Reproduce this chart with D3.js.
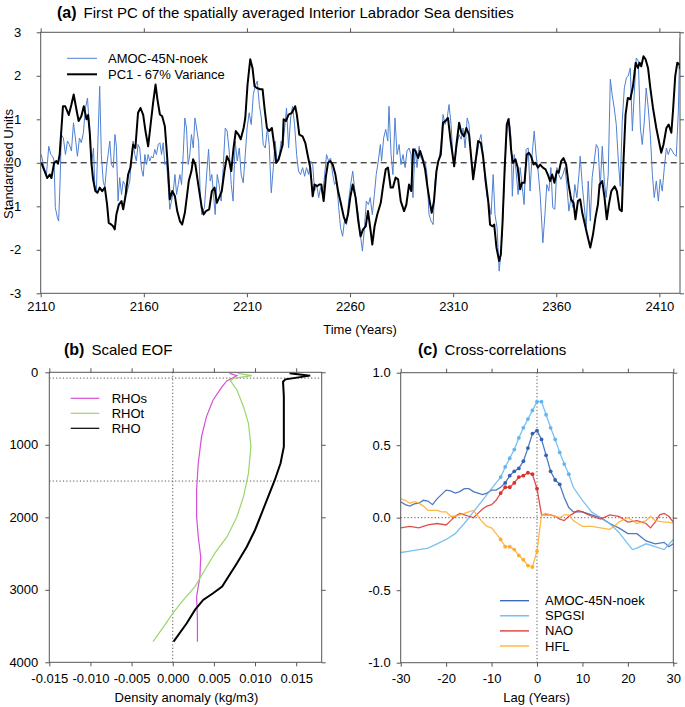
<!DOCTYPE html>
<html><head><meta charset="utf-8">
<script src="https://cdn.jsdelivr.net/npm/d3@7"></script>
<style>
body{margin:0;background:#fff;}
svg{display:block;font-family:"Liberation Sans",Arial,Helvetica,sans-serif;}
</style></head>
<body>
<svg id="chart" width="685" height="707"></svg>
<script>
// ---------- Panel (a) data: [year, standardised value] ----------
const amoc = [[2110.3,0.19],[2111.6,-0.11],[2112.8,-0.27],[2113.9,0.38],[2114.9,0.19],[2115.8,0.15],[2116.5,0.04],[2117.1,-1.03],[2118.1,-1.26],[2118.7,-1.34],[2119.4,-0.42],[2120,0.65],[2121,0.57],[2122,0.19],[2123,0.5],[2123.9,0.42],[2124.9,0.27],[2125.9,0.92],[2126.8,0.57],[2127.8,0.15],[2128.8,0.57],[2129.7,0.46],[2130.7,0.69],[2131.7,1.26],[2132.7,1.49],[2133.6,0.8],[2134.6,-0.04],[2135.6,0.34],[2136.2,-0.5],[2137,-0.65],[2137.8,0.57],[2138.6,1.76],[2139.4,0.19],[2140.3,-0.42],[2141.1,-0.57],[2141.9,-0.11],[2142.7,0.19],[2143.5,0.5],[2144.3,-0.04],[2145.2,-0.11],[2146,0.65],[2146.7,0.38],[2147.5,-0.88],[2148.3,-0.34],[2149.2,-0.73],[2150,-0.42],[2150.8,-0.5],[2151.6,-0.73],[2152.4,-0.57],[2153.2,-0.42],[2154,0.11],[2154.8,0.5],[2155.6,0.19],[2156.4,0.04],[2157.2,0.42],[2158,0.34],[2158.9,-0.15],[2159.7,-0.31],[2160.5,0.19],[2161.3,-0.04],[2162.1,0.19],[2162.9,0.04],[2163.7,0.15],[2164.5,0.11],[2165.3,0.31],[2166.1,0.19],[2167,0.42],[2167.8,0.46],[2168.6,0.19],[2169.4,0.46],[2170.2,-0.04],[2171,0.04],[2171.8,-0.5],[2172.6,-1.07],[2173.4,-0.88],[2174.2,-0.69],[2175.1,-0.27],[2175.9,-0.73],[2176.7,-0.5],[2177.5,-0.27],[2178.3,-0.5],[2179.1,0.19],[2179.9,1.03],[2180.7,0.8],[2181.5,-0.04],[2182.3,0.19],[2183.1,0.65],[2184,0.34],[2184.8,1.03],[2185.6,0.8],[2186.6,0.46],[2187.3,-0.65],[2188.1,-1.19],[2189.4,-1.03],[2190.6,-0.19],[2191.4,0.31],[2192.2,-0.42],[2193,-0.27],[2193.8,-0.73],[2194.6,-1.19],[2195.6,-0.27],[2196.5,-0.5],[2197.5,-0.88],[2198.5,-0.11],[2199.5,0.8],[2200.4,0.73],[2201.4,0.27],[2202.4,-0.5],[2203.3,-0.88],[2204.3,0.5],[2205.3,0.04],[2206.3,0.34],[2207.2,-0.27],[2208.2,-0.46],[2209.2,0.19],[2210.1,0.8],[2211.1,1.15],[2212.1,0.88],[2213.1,1.57],[2214,1.76],[2215,1.88],[2216,1.34],[2217,1.03],[2217.9,0.42],[2218.9,0.34],[2219.9,0.8],[2220.8,0.42],[2221.8,-0.69],[2222.8,-0.11],[2223.7,0.5],[2224.7,0],[2225.7,0.19],[2226.6,0.5],[2227.3,0.34],[2228.3,0.8],[2229.2,1.26],[2230.2,0.34],[2231.2,1.03],[2232.1,1.3],[2233.1,0.88],[2234.1,0.19],[2235,-0.19],[2236,-0.27],[2237,-0.11],[2238,-0.31],[2238.9,-0.11],[2239.9,-0.27],[2240.9,0.04],[2241.9,-0.04],[2242.8,-0.65],[2243.8,-0.5],[2244.8,-0.8],[2245.7,-0.57],[2246.7,-0.73],[2247.7,-0.27],[2248.6,0.19],[2249.6,0.04],[2250.6,0.11],[2251.6,-0.27],[2252.5,-0.5],[2253.5,-0.42],[2254.5,-1.03],[2255.4,-1.49],[2256.4,-1.69],[2257.4,-1.3],[2258.3,-1.42],[2259.3,-0.88],[2260.3,-0.5],[2261.3,-0.19],[2262,-0.5],[2263,-0.88],[2264,-1.19],[2265,-1.65],[2266,-2.03],[2267,-1.49],[2267.9,-0.88],[2268.9,-0.96],[2269.8,-0.8],[2270.8,-1.19],[2271.8,-0.73],[2272.7,-0.27],[2273.7,0.04],[2274.7,0.42],[2275.3,0.04],[2276.3,0.57],[2277.3,0.77],[2278.3,0.5],[2278.9,1.3],[2279.9,0.19],[2280.8,-0.27],[2281.8,1.03],[2282.8,0.19],[2283.8,0.42],[2284.7,-0.04],[2285.7,0.19],[2286.7,-0.11],[2287.6,0.27],[2288.6,0.34],[2289.6,0.19],[2290.5,-0.8],[2291.5,0.34],[2292.5,-0.11],[2293.5,0.38],[2294.4,0.11],[2295.4,0.04],[2296.4,0.04],[2297.3,-0.27],[2298.3,-1.19],[2299.3,-1.34],[2300.3,-1.42],[2301.2,-0.42],[2302.2,-0.11],[2303.2,0.11],[2304.1,0.42],[2305.1,1.11],[2306.1,0.88],[2307.1,1.03],[2308,1.34],[2309,0.88],[2310,0.04],[2310.9,0.08],[2311.9,0.42],[2312.9,0.65],[2313.9,0.54],[2314.8,0.8],[2315.8,0.34],[2316.8,1.03],[2317.7,0.88],[2318.7,0.11],[2319.7,-0.34],[2320.6,0.04],[2321.6,0.19],[2322.6,0.5],[2323.5,0.65],[2324.5,0.19],[2325.5,-0.42],[2326.5,-0.8],[2327.4,-0.96],[2328.4,-1.19],[2329.4,-0.27],[2330.3,-1.19],[2331.3,-1.49],[2332.3,-2.49],[2333.3,-2.03],[2334.2,-1.19],[2335.2,0.04],[2336.2,0.8],[2337.1,1.03],[2338.1,0.57],[2338.7,-0.77],[2339.6,0.19],[2340.5,-0.19],[2341.5,-0.73],[2342.5,-0.11],[2343.4,-0.5],[2344.4,-0.96],[2345.4,0.31],[2346.4,0.34],[2347.3,-0.65],[2348.3,0.19],[2349.3,0.73],[2350.2,0.19],[2351.2,-0.19],[2352.2,-0.73],[2353.5,-1.84],[2354.5,-1.19],[2355.4,-0.5],[2356.4,-0.65],[2357.4,-0.11],[2358.3,-1.03],[2359.3,-1.07],[2360.3,-0.11],[2361.2,-0.27],[2362.2,-0.38],[2363.2,-0.27],[2364.2,-0.11],[2365.1,-0.5],[2366.1,-1.11],[2367.1,-0.8],[2368.1,-1.03],[2369,-0.5],[2370,-0.8],[2371,-0.27],[2371.6,0.15],[2372.6,-0.5],[2373.5,-0.96],[2374.5,-1.49],[2375.5,-0.42],[2376.5,-1.34],[2377.4,-0.34],[2378.4,0.04],[2379.4,0.42],[2380.3,0.34],[2381.3,-0.57],[2382.3,0.38],[2383.3,-0.42],[2384.2,-0.8],[2385.2,-0.27],[2386.2,1.92],[2387.1,1.57],[2388.1,1.26],[2389.1,0.88],[2390.1,0.04],[2391,-0.54],[2392,0.96],[2393,1.72],[2394,1.95],[2394.9,2.0],[2395.9,2.18],[2396.9,0.73],[2397.8,1.57],[2398.8,2.41],[2399.8,2.34],[2400.8,0.8],[2401.7,0.42],[2402.7,0.96],[2403.6,1.72],[2404.6,1.26],[2405.6,0.65],[2406.6,-0.27],[2407.5,-0.8],[2408.5,-0.42],[2409.5,-0.88],[2410.4,-0.38],[2411.4,-0.65],[2412.4,-0.11],[2413.4,0.34],[2414.3,0.19],[2415.3,0.34],[2416.3,0.27],[2417.2,0.19],[2418.2,0.15],[2419.2,1.19],[2419.8,2.49],[2420,2.87]];

const pc1 = [[2110.3,0],[2111.9,-0.19],[2113.2,-0.35],[2114.4,-0.27],[2115.2,-0.35],[2116.5,0],[2117.6,0.04],[2118.4,-0.02],[2119.2,0.19],[2120.8,1.3],[2121.9,1.3],[2123.6,1.1],[2124.9,1.34],[2126,1.57],[2127.3,1.23],[2128.4,0.96],[2129.7,1.07],[2130.9,1.3],[2132.2,1.0],[2133,1.1],[2133.8,0.69],[2134.6,0],[2135.4,-0.38],[2136.5,-0.65],[2137.5,-0.69],[2138.6,-0.57],[2139.8,-0.65],[2141.1,-0.57],[2142.2,-0.96],[2143,-1.38],[2144.3,-1.42],[2145.1,-1.46],[2145.9,-1.53],[2146.7,-1.19],[2147.9,-0.96],[2149.2,-0.88],[2150,-1.07],[2151.1,-0.77],[2152.4,-0.27],[2153.5,-0.11],[2154.8,0.42],[2155.9,0.34],[2157.2,1.15],[2158.4,1.26],[2159.7,1.1],[2160.8,0.73],[2162.1,0.38],[2163.2,0.84],[2164.5,1.38],[2165.7,1.8],[2166.6,1.46],[2167.8,1.11],[2168.9,1.07],[2170.2,0.84],[2171,0.34],[2171.8,-0.19],[2172.6,-0.84],[2173.8,-0.65],[2175.1,-0.77],[2176.2,-1.11],[2177.5,-1.34],[2178.6,-1.42],[2179.9,-1.15],[2181,-0.73],[2181.8,-0.42],[2183.1,-0.19],[2183.9,0.08],[2185,-0.04],[2186.4,-0.5],[2188.1,-1.03],[2189,-1.19],[2190.1,-1.11],[2191.7,-1.07],[2193,-0.65],[2194.3,-0.57],[2195.4,-0.92],[2196.5,-0.8],[2197.8,-0.65],[2199.1,-0.19],[2200.3,0.15],[2201.4,0.04],[2202.4,-0.19],[2203.5,0.34],[2204.6,0.73],[2205.9,0.65],[2207,0.54],[2208.4,0.8],[2209.2,1.03],[2210.3,1.8],[2211.6,2.38],[2212.7,2.18],[2213.7,1.76],[2214.8,1.72],[2216.5,1.69],[2217.6,1.69],[2218.6,1.23],[2219.7,0.8],[2220.8,0.73],[2222.1,0.8],[2223.2,0.42],[2224.2,0],[2225.4,0.08],[2226.5,0.27],[2227.3,0.42],[2227.8,1.0],[2228.9,0.96],[2230.2,1.11],[2231.8,1.15],[2233.4,1.3],[2234.2,1.11],[2235.4,0.65],[2237,0.61],[2238.3,0.46],[2239.4,0.19],[2240.7,-0.11],[2241.9,-0.77],[2242.8,-0.5],[2244,-0.54],[2245.1,-0.5],[2246.1,-0.5],[2247.2,-0.88],[2248.3,-0.31],[2249.3,0],[2250.4,0.04],[2251.6,-0.04],[2252.9,-0.27],[2254.2,-0.65],[2255.3,-0.88],[2256.9,-1.23],[2258,-1.38],[2259,-1.19],[2260.1,-0.8],[2261.3,-0.5],[2262.7,-0.8],[2264,-1.34],[2265.1,-1.69],[2266.3,-1.53],[2267.6,-1.46],[2268.7,-1.11],[2270,-1.57],[2270.8,-1.88],[2271.9,-1.46],[2273.2,-1.19],[2274.9,-0.92],[2276,-0.54],[2277.3,-0.15],[2278.4,-0.11],[2279.7,-0.57],[2280.8,-0.57],[2282.1,-0.34],[2283.3,-0.38],[2284.6,-0.88],[2286.2,-1.11],[2287.3,-0.96],[2288.6,-0.5],[2289.7,-0.65],[2290.6,0.31],[2291.8,0.27],[2293,0.11],[2294,0.27],[2295.1,0.11],[2296.4,-0.15],[2297.5,-0.54],[2298.6,-0.88],[2299.6,-1.15],[2300.7,-0.88],[2301.9,-0.19],[2302.8,0.04],[2304,0.19],[2305.1,0.92],[2306.4,0.97],[2307.5,1.03],[2308.8,0.5],[2310.5,-0.08],[2311.6,0.42],[2312.9,0.92],[2314,0.69],[2315.3,0.61],[2316.4,0.8],[2317.7,0.65],[2319,0],[2319.7,-0.38],[2321,0.08],[2322.1,0.5],[2323.4,0.46],[2324.5,0.15],[2325.8,-0.42],[2327,-0.88],[2327.9,-1.42],[2329.1,-1.46],[2329.9,-1.42],[2331,-1.95],[2332.3,-2.26],[2333.1,-2.11],[2333.9,-1.42],[2335,-0.11],[2336,0.88],[2336.8,1.0],[2337.3,0.8],[2338.1,0.3],[2338.9,0],[2340.2,0.08],[2341.3,-0.11],[2342.5,-0.61],[2343.4,-0.46],[2344.6,-0.46],[2345.7,0.19],[2346.7,0.23],[2347.8,0.15],[2349,-0.04],[2349.9,0],[2351.1,-0.11],[2352.2,-0.04],[2353.5,-0.11],[2354.8,-0.15],[2355.9,-0.27],[2357,-0.42],[2358,-0.27],[2359.1,-0.46],[2360.3,-0.19],[2361.2,-0.23],[2362.4,0.04],[2363.5,0.11],[2364.8,-0.04],[2366,-0.5],[2367.2,-0.84],[2368.4,-0.92],[2369.3,-1.3],[2370.5,-0.88],[2371.6,-0.84],[2372.6,-1.15],[2373.7,-1.38],[2374.8,-1.61],[2376.5,-1.95],[2377.8,-1.65],[2379,-1.26],[2380.2,-0.96],[2381,-0.5],[2382.3,-0.42],[2383.4,-0.8],[2384.5,-1.3],[2385.5,-0.96],[2386.7,-0.65],[2388.3,-0.54],[2389.4,-0.65],[2390.7,-1.07],[2391.8,-1.11],[2392.6,0.04],[2393.6,1.11],[2394.7,1.49],[2395.9,1.46],[2397.2,1.76],[2398.5,2.3],[2399.6,2.18],[2400.4,2.3],[2401.2,2.22],[2402.3,2.45],[2403.3,2.38],[2404.5,2.18],[2405.6,1.72],[2406.9,1.26],[2408.5,0.8],[2410.1,0.42],[2410.9,0.23],[2412,0.42],[2413.4,0.8],[2414.5,0.88],[2415.8,0.69],[2416.6,1.19],[2417.7,2.0],[2418.7,2.3],[2419.8,2.26],[2420,2.15]];

const yearTicks = [2110,2160,2210,2260,2310,2360,2410];
const unitTicks = [-3,-2,-1,0,1,2,3];

// ---------- Panel (b) data: [density anomaly, depth] ----------
const rho  = [[0.0142,14],[0.0167,46],[0.0137,97],[0.0134,129],[0.0135,336],[0.0135,795],[0.0135,1025],[0.0131,1255],[0.0124,1485],[0.0116,1715],[0.0108,1945],[0.0100,2175],[0.0090,2405],[0.0078,2634],[0.0060,2956],[0.0049,3048],[0.0037,3140],[0.0027,3278],[0.0017,3462],[0.0001,3715]];
const rhoS = [[0.0069,14],[0.0078,46],[0.0072,83],[0.0066,115],[0.0060,198],[0.0049,382],[0.0041,611],[0.0035,887],[0.0031,1255],[0.0029,1623],[0.0029,1991],[0.0031,2267],[0.0034,2543],[0.0033,2818],[0.0029,3094],[0.0030,3416],[0.0030,3715]];
const rhoT = [[0.0079,14],[0.0096,46],[0.0074,83],[0.0070,115],[0.0078,244],[0.0086,474],[0.0092,703],[0.0095,1025],[0.0092,1393],[0.0086,1715],[0.0078,1991],[0.0066,2267],[0.0051,2497],[0.0039,2726],[0.0027,2956],[0.0013,3140],[0.0000,3324],[-0.0011,3508],[-0.0024,3715]];
const densityTicks = [-0.015,-0.010,-0.005,0.000,0.005,0.010,0.015];
const depthTicks = [0,1000,2000,3000,4000];
const depthRefLines = [80,1500];

// ---------- Panel (c) data: [lag, correlation] ----------
const ccAmoc = [[-30,0.11],[-29,0.09],[-28,0.08],[-27,0.095],[-26,0.1],[-25,0.12],[-24,0.115],[-23,0.09],[-22,0.13],[-20,0.19],[-19,0.185],[-18,0.17],[-17,0.18],[-16,0.2],[-15,0.2],[-14,0.18],[-13,0.17],[-12,0.16],[-11,0.17],[-10,0.19],[-9,0.19],[-8,0.21],[-7,0.24],[-6,0.29],[-5,0.32],[-4,0.34],[-3,0.39],[-2,0.48],[-1,0.58],[0,0.6],[1,0.54],[2,0.43],[3,0.32],[4,0.26],[5,0.23],[6,0.14],[7,0.07],[8,0.04],[10,0.04],[12,0.02],[14,0.0],[16,-0.04],[18,-0.07],[20,-0.11],[22,-0.11],[24,-0.16],[26,-0.18],[28,-0.17],[29,-0.2],[30,-0.18]];
const ccSpgsi = [[-30,-0.24],[-28,-0.23],[-26,-0.22],[-24,-0.21],[-22,-0.18],[-20,-0.15],[-18,-0.11],[-16,-0.04],[-14,0.04],[-12,0.12],[-10,0.2],[-8,0.28],[-7,0.35],[-6,0.41],[-5,0.47],[-4,0.55],[-3,0.62],[-2,0.68],[-1,0.74],[0,0.8],[1,0.8],[2,0.71],[3,0.62],[4,0.54],[5,0.45],[6,0.37],[7,0.3],[8,0.21],[10,0.12],[12,0.04],[14,0.0],[16,-0.04],[18,-0.1],[20,-0.18],[21,-0.22],[22,-0.21],[24,-0.18],[26,-0.2],[28,-0.22],[30,-0.15]];
const ccNao = [[-30,-0.07],[-28,-0.06],[-26,-0.07],[-24,-0.05],[-22,-0.04],[-20,-0.05],[-19,-0.02],[-18,0.01],[-17,0.03],[-16,0.02],[-15,0.01],[-14,0.0],[-13,0.03],[-12,0.06],[-11,0.08],[-10,0.09],[-9,0.12],[-8,0.17],[-7,0.21],[-6,0.21],[-5,0.24],[-4,0.28],[-3,0.29],[-2,0.31],[-1,0.3],[0,0.2],[1,0.02],[2,0.02],[3,0.02],[4,0.01],[5,-0.01],[6,-0.02],[7,0.01],[8,0.03],[9,0.05],[10,0.04],[12,0.01],[14,-0.01],[16,0.02],[18,0.01],[20,-0.03],[22,-0.02],[24,-0.04],[25,-0.07],[26,-0.03],[27,0.02],[28,0.03],[29,0.01],[30,-0.03]];
const ccHfl = [[-30,0.13],[-29,0.12],[-28,0.1],[-27,0.11],[-26,0.1],[-25,0.08],[-24,0.05],[-22,0.05],[-21,0.04],[-20,0.04],[-19,0.01],[-18,0.01],[-17,0.02],[-16,0.03],[-15,0.04],[-14,0.05],[-13,0.01],[-12,-0.03],[-11,-0.06],[-10,-0.07],[-9,-0.11],[-8,-0.15],[-7,-0.2],[-6,-0.2],[-5,-0.22],[-4,-0.26],[-3,-0.29],[-2,-0.33],[-1,-0.34],[0,-0.23],[1,0.02],[2,0.03],[3,0.02],[4,0.01],[5,0.0],[6,0.02],[7,0.02],[8,-0.02],[9,-0.04],[10,-0.06],[12,-0.06],[14,-0.07],[16,-0.08],[17,-0.06],[18,-0.03],[20,0.0],[22,-0.04],[24,-0.02],[25,0.01],[26,-0.02],[28,-0.03],[29,-0.03],[30,-0.04]];
const lagTicks = [-30,-20,-10,0,10,20,30];
const corrTicks = [-1.0,-0.5,0.0,0.5,1.0];

// ---------- drawing ----------
const svg = d3.select("#chart");
const FONT = 13, FRAME = "#555";
const fixed = n => (d => d.toFixed(n));   // plain hyphen-minus like the original

function frameAxes(g, x, y, xt, yt, xfmt, yfmt, xpad, ypad) {
  const [x0,x1] = x.range(), [y0,y1] = y.range();
  const top = Math.min(y0,y1), bot = Math.max(y0,y1);
  const style = sel => { sel.select(".domain").remove();
    sel.selectAll(".tick line").attr("stroke", FRAME);
    sel.selectAll(".tick text").attr("font-size", FONT).attr("fill","#000").attr("font-family","Liberation Sans, Arial, sans-serif"); };
  g.append("g").attr("transform",`translate(0,${bot})`)
    .call(d3.axisBottom(x).tickValues(xt).tickFormat(xfmt).tickSize(4).tickPadding(xpad)).call(style);
  g.append("g").attr("transform",`translate(0,${top})`)
    .call(d3.axisTop(x).tickValues(xt).tickFormat("").tickSize(4)).call(style);
  g.append("g").attr("transform",`translate(${x0},0)`)
    .call(d3.axisLeft(y).tickValues(yt).tickFormat(yfmt).tickSize(4).tickPadding(ypad)).call(style);
  g.append("g").attr("transform",`translate(${x1},0)`)
    .call(d3.axisRight(y).tickValues(yt).tickFormat("").tickSize(4)).call(style);
  g.append("rect").attr("x",x0).attr("y",top).attr("width",x1-x0).attr("height",bot-top)
    .attr("fill","none").attr("stroke",FRAME).attr("stroke-width",1);
}

function title(x, y, tag, text) {
  const t = svg.append("text").attr("x",x).attr("y",y).attr("font-size",15);
  t.append("tspan").attr("font-weight","bold").attr("font-size",16).text(tag);
  t.append("tspan").attr("dx",7).text(text);
}

function legend(items, x, y0, dy, x1, x2) {
  items.forEach((it,i) => {
    const y = y0 + i*dy;
    svg.append("line").attr("x1",x).attr("x2",x1).attr("y1",y).attr("y2",y)
      .attr("stroke",it.color).attr("stroke-width",it.w);
    svg.append("text").attr("x",x2).attr("y",y+4.5).attr("font-size",FONT).text(it.name);
  });
}

// ----- Panel (a)
{
  const x = d3.scaleLinear().domain([2110,2420]).range([40.7,680]);
  const y = d3.scaleLinear().domain([-3,3]).range([293.3,32.3]);
  const g = svg.append("g");
  svg.append("clipPath").attr("id","clipA").append("rect")
    .attr("x",40.7).attr("y",32.3).attr("width",680-40.7).attr("height",261);
  g.append("line").attr("x1",x.range()[0]).attr("x2",x.range()[1]).attr("y1",y(0)).attr("y2",y(0))
    .attr("stroke","#000").attr("stroke-dasharray","6,4").attr("stroke-width",1);
  const line = d3.line().x(d=>x(d[0])).y(d=>y(d[1]));
  const lg = g.append("g").attr("clip-path","url(#clipA)");
  lg.append("path").datum(amoc).attr("d",line).attr("fill","none").attr("stroke","#4f80d2").attr("stroke-width",1);
  lg.append("path").datum(pc1).attr("d",line).attr("fill","none").attr("stroke","#000").attr("stroke-width",2).attr("stroke-linejoin","round");
  frameAxes(g, x, y, yearTicks, unitTicks, fixed(0), fixed(0), 4.5, 15.5);
  svg.append("text").attr("transform","translate(12.5,164) rotate(-90)").attr("text-anchor","middle")
    .attr("font-size",FONT).text("Standardised Units");
  svg.append("text").attr("x",360).attr("y",334).attr("text-anchor","middle").attr("font-size",FONT).text("Time (Years)");
  title(57, 18, "(a)", "First PC of the spatially averaged Interior Labrador Sea densities");
  legend([{name:"AMOC-45N-noek",color:"#4f80d2",w:1},{name:"PC1 - 67% Variance",color:"#000",w:2}], 67, 58.3, 16, 97, 108);
}

// ----- Panel (b)
{
  const x = d3.scaleLinear().domain([-0.015,0.0181]).range([49.3,321.7]);
  const y = d3.scaleLinear().domain([0,4000]).range([372.3,662.3]);
  const g = svg.append("g");
  depthRefLines.forEach(d => g.append("line").attr("x1",x.range()[0]).attr("x2",x.range()[1])
    .attr("y1",y(d)).attr("y2",y(d)).attr("stroke","#555").attr("stroke-dasharray","1.2,2.2"));
  g.append("line").attr("x1",x(0)).attr("x2",x(0)).attr("y1",y.range()[0]).attr("y2",y.range()[1])
    .attr("stroke","#555").attr("stroke-dasharray","1.2,2.2");
  const line = d3.line().x(d=>x(d[0])).y(d=>y(d[1]));
  g.append("path").datum(rhoS).attr("d",line).attr("fill","none").attr("stroke","#d64fd6").attr("stroke-width",1.2);
  g.append("path").datum(rhoT).attr("d",line).attr("fill","none").attr("stroke","#9ad66a").attr("stroke-width",1.2);
  g.append("path").datum(rho).attr("d",line).attr("fill","none").attr("stroke","#000").attr("stroke-width",2);
  frameAxes(g, x, y, densityTicks, depthTicks, fixed(3), fixed(0), 7, 7);
  svg.append("text").attr("x",186.5).attr("y",702).attr("text-anchor","middle").attr("font-size",FONT).text("Density anomaly (kg/m3)");
  title(64, 355, "(b)", "Scaled EOF");
  legend([{name:"RHOs",color:"#d64fd6",w:1.2},{name:"RHOt",color:"#9ad66a",w:1.2},{name:"RHO",color:"#000",w:1.2}], 70.7, 398.3, 15, 99.3, 111.7);
}

// ----- Panel (c)
{
  const x = d3.scaleLinear().domain([-30,30]).range([400.7,673.3]);
  const y = d3.scaleLinear().domain([-1,1]).range([662.7,372.7]);
  const g = svg.append("g");
  g.append("line").attr("x1",x.range()[0]).attr("x2",x.range()[1]).attr("y1",y(0)).attr("y2",y(0))
    .attr("stroke","#555").attr("stroke-dasharray","1.2,2.2");
  g.append("line").attr("x1",x(0)).attr("x2",x(0)).attr("y1",y.range()[0]).attr("y2",y.range()[1])
    .attr("stroke","#555").attr("stroke-dasharray","1.2,2.2");
  const line = d3.line().x(d=>x(d[0])).y(d=>y(d[1]));
  const series = [
    {data:ccAmoc, color:"#3262b4", mark:[-7,5]},
    {data:ccSpgsi, color:"#62b6f0", mark:[-8,7]},
    {data:ccNao, color:"#d8302f", mark:[-8,0]},
    {data:ccHfl, color:"#ffac2a", mark:[-8,0]}
  ];
  series.forEach(s => {
    g.append("path").datum(s.data).attr("d",line).attr("fill","none").attr("stroke",s.color).attr("stroke-width",1.3).attr("stroke-opacity",0.85);
    g.selectAll(null).data(s.data.filter(d=>d[0]>=s.mark[0]&&d[0]<=s.mark[1])).enter().append("circle")
      .attr("cx",d=>x(d[0])).attr("cy",d=>y(d[1])).attr("r",1.9).attr("fill",s.color);
  });
  frameAxes(g, x, y, lagTicks, corrTicks, fixed(0), fixed(1), 7, 6);
  svg.append("text").attr("x",536.7).attr("y",702).attr("text-anchor","middle").attr("font-size",FONT).text("Lag (Years)");
  title(418, 355, "(c)", "Cross-correlations");
  legend([{name:"AMOC-45N-noek",color:"#3262b4",w:1.3},{name:"SPGSI",color:"#62b6f0",w:1.3},{name:"NAO",color:"#d8302f",w:1.3},{name:"HFL",color:"#ffac2a",w:1.3}], 500, 600.7, 15.1, 529, 545);
}
</script>
</body></html>
